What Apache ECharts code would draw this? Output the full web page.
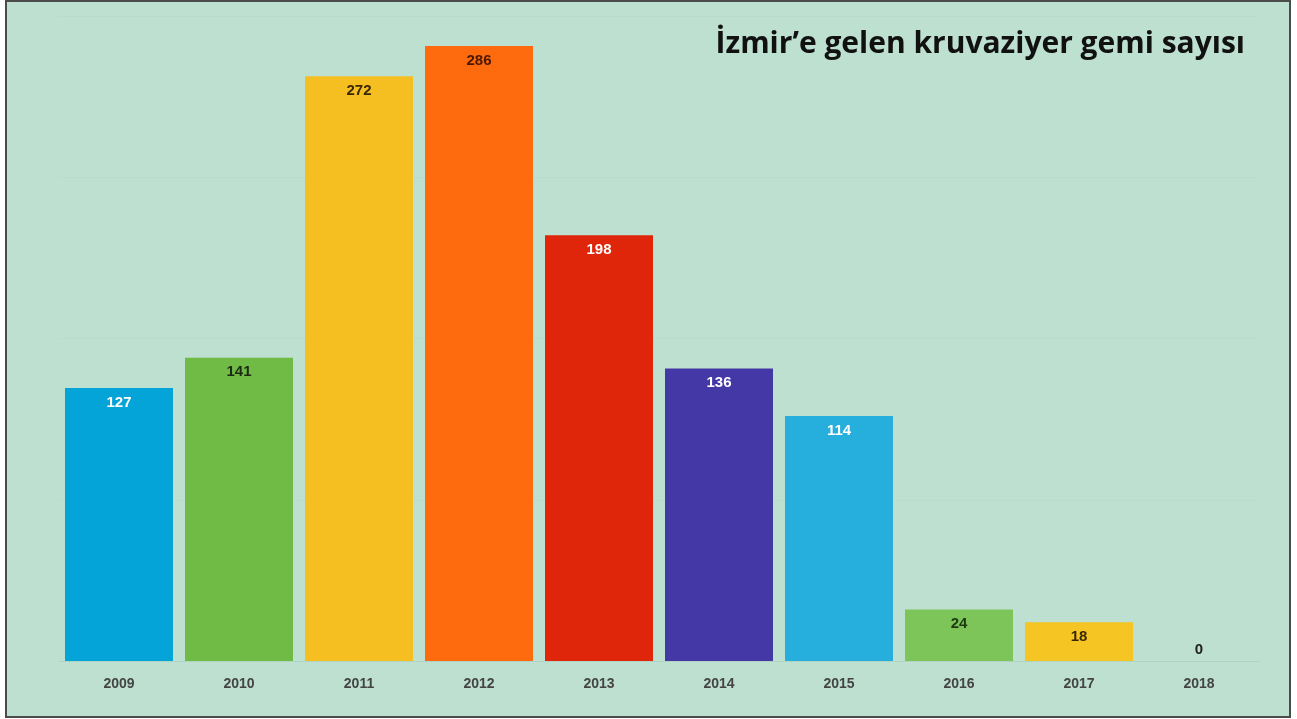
<!DOCTYPE html>
<html>
<head>
<meta charset="utf-8">
<title>İzmir'e gelen kruvaziyer gemi sayısı</title>
<script src="https://cdn.jsdelivr.net/npm/echarts@6/dist/echarts.min.js"></script>
<style>
  html, body { margin: 0; padding: 0; background: #fff; }
  #chart { width: 1297px; height: 719px; }
</style>
</head>
<body>
<div id="chart"></div>
<script>
// veriler
var years = ['2009', '2010', '2011', '2012', '2013', '2014', '2015', '2016', '2017', '2018'];
var ships = [127, 141, 272, 286, 198, 136, 114, 24, 18, 0];
var barColors = ['#05a4d8', '#70bb45', '#f5bf22', '#fe6b0e', '#e0260a', '#4438a6', '#26aedc', '#7ec559', '#f5c523', '#bde0d1'];
var labelColors = ['#ffffff', '#1c2a12', '#3a2800', '#4a1800', '#ffffff', '#ffffff', '#ffffff', '#1c3a12', '#3a2800', '#222222'];

var myChart = echarts.init(document.getElementById('chart'));

var barData = ships.map(function (v, i) {
  var item = {
    value: v,
    itemStyle: { color: barColors[i] },
    label: { color: labelColors[i] }
  };
  // 0 olan sütunun etiketi çizginin üstünde
  if (v === 0) {
    item.label.position = 'top';
    item.label.distance = 4;
  }
  return item;
});

var option = {
  backgroundColor: '#ffffff',
  animation: false,
  title: {
    text: 'İzmir’e gelen kruvaziyer gemi sayısı',
    right: 47,
    top: 24,
    textStyle: {
      fontFamily: 'Open Sans',
      fontWeight: 'bold',
      fontSize: 30,
      color: '#111'
    }
  },
  graphic: [{
    type: 'rect',
    z: -10,
    silent: true,
    shape: { x: 6, y: 1, width: 1284, height: 716 },
    style: { fill: '#bde0d1', stroke: '#4b4b4b', lineWidth: 2 }
  }],
  grid: { left: 59, right: 38, top: 16, bottom: 58 },
  xAxis: {
    type: 'category',
    data: years,
    axisLine: { lineStyle: { color: '#b0d4c4', width: 1 } },
    axisTick: { show: false },
    axisLabel: {
      margin: 16,
      color: '#444',
      fontFamily: 'Liberation Sans',
      fontWeight: 'bold',
      fontSize: 14
    }
  },
  yAxis: {
    type: 'value',
    min: 0,
    max: 300,
    interval: 75,
    axisLine: { show: false },
    axisTick: { show: false },
    axisLabel: { show: false },
    splitLine: { lineStyle: { color: '#b9dccd', width: 1 } }
  },
  series: [{
    type: 'bar',
    data: barData,
    barCategoryGap: '10%',
    label: {
      show: true,
      position: 'insideTop',
      distance: 7,
      fontFamily: 'Liberation Sans',
      fontWeight: 'bold',
      fontSize: 15
    }
  }]
};

myChart.setOption(option);
</script>
</body>
</html>
